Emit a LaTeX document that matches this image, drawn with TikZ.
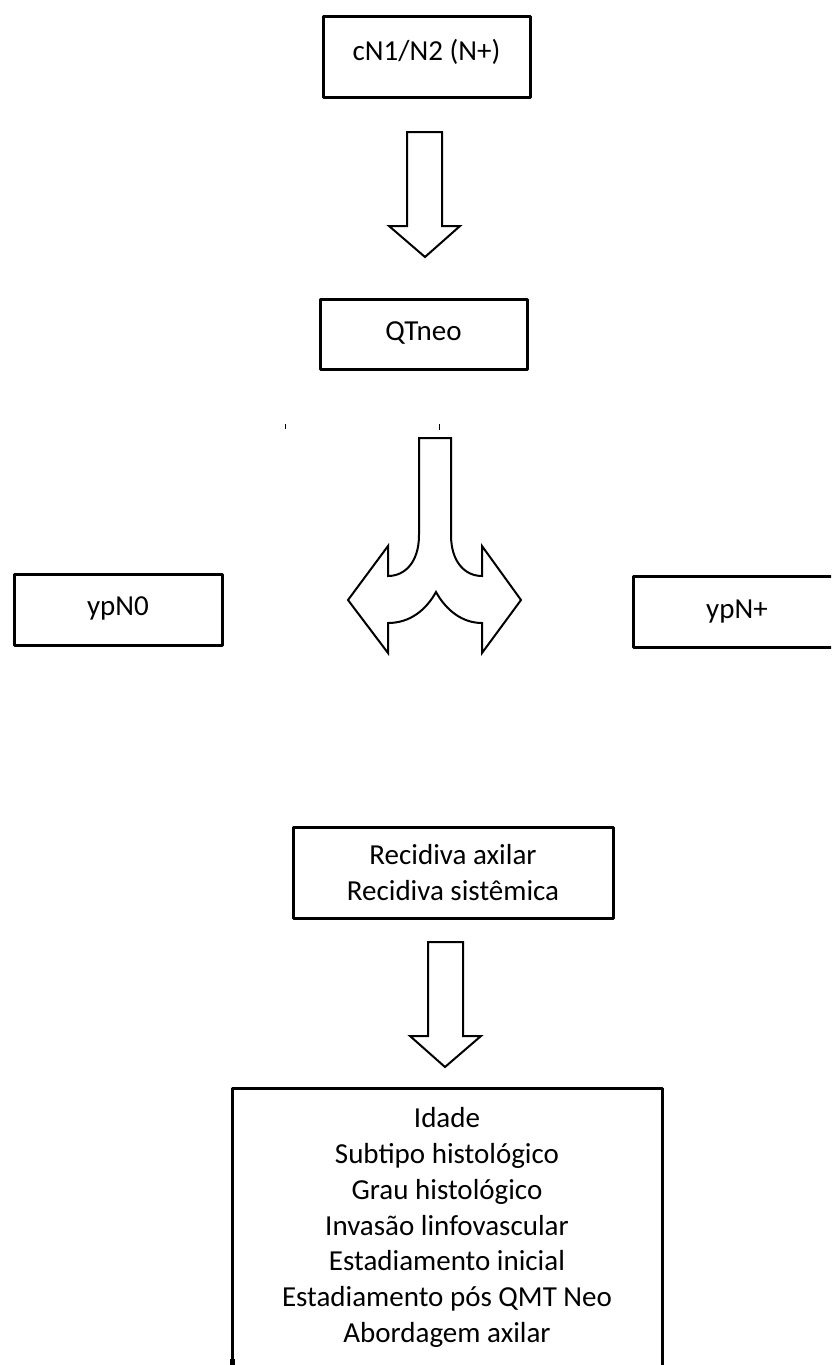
\documentclass[tikz,border=0pt]{standalone}
\usepackage{fontspec}
\setmainfont{Carlito}
\tikzset{
	caixa/.style = {draw, line width=1.5pt, rectangle, line join=round, inner sep=0pt, outer sep=0pt,
		font=\fontsize{14.5}{17.9}\selectfont},
	borda/.style = {line width=1.5pt},
	seta/.style = {draw, line width=1pt, line join=miter},
}
\begin{document}
\begin{tikzpicture}[x=0.5pt, y=-0.5pt]
\useasboundingbox (0,0) rectangle (831,1365);
\clip (0,0) rectangle (831,1365);

\node[caixa, anchor=north, minimum width=103.5pt, text height=22pt, text depth=18.5pt] (cn) at (426.5,16) {cN1/N2 (N+)};
\node[caixa, anchor=north, minimum width=103.5pt, text height=20.5pt, text depth=14.5pt] (qt) at (423.5,299) {QTneo};
\node[caixa, anchor=north, minimum width=104pt, text height=20.5pt, text depth=15pt] (n0) at (118,574) {ypN0};
\node[caixa, anchor=north, minimum width=104pt, text height=21pt, text depth=14.5pt] (npos) at (737,576) {ypN+};
\node[caixa, align=center, minimum width=160pt, minimum height=45.5pt] (rec) at (453,872.5)
	{Recidiva axilar\\Recidiva sistêmica};

% texto cortado no fim da caixa
\begin{scope}
\clip (0,0) rectangle (831,1348);
\node[caixa, align=center, minimum width=215pt, minimum height=139.5pt] (fat) at (447,1227.5)
	{Idade\\Subtipo histológico\\Grau histológico\\Invasão linfovascular\\Estadiamento inicial\\Estadiamento pós QMT Neo\\Abordagem axilar};
\end{scope}
\draw[borda] (fat.north west) -- (fat.south west) (fat.north east) -- (fat.south east);
\fill (fat.south west) ++(-2,-8) rectangle ++(5,8);

% setas
\draw[seta] (407,132) -- (442,132) -- (442,226) -- (460,226) -- (425,257) -- (389,226) -- (407,226) -- cycle;
\draw[seta] (419,438) -- (451,438) -- (451,535) .. controls (451,562) and (465,576) .. (482,576)
	-- (482,546) -- (521,600) -- (482,653) -- (482,623)
	.. controls (462,623) and (446,610) .. (436,592)
	.. controls (426,610) and (410,623) .. (388,623)
	-- (388,653) -- (348,600) -- (388,546) -- (388,576)
	.. controls (405,576) and (419,562) .. (419,535) -- cycle;
\draw[seta] (428,942) -- (463,942) -- (463,1036) -- (481,1036) -- (445,1067) -- (410,1036) -- (428,1036) -- cycle;

\draw[line width=0.5pt] (285,424) -- (285,429);
\draw[line width=0.5pt] (439,424) -- (439,430);
\end{tikzpicture}
\end{document}
